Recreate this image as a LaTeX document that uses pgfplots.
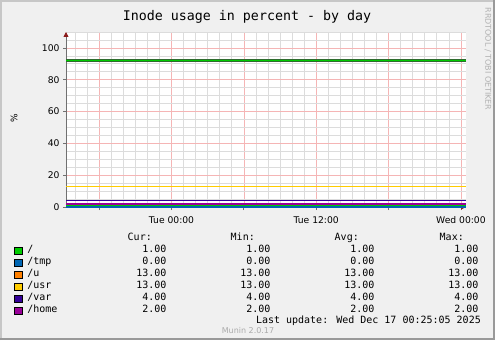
\documentclass[border=0pt]{standalone}
\usepackage{fontspec}
\setmainfont{DejaVu Sans}
\newfontfamily\mono{DejaVu Sans Mono}
\usepackage{pgfplots}
\pgfplotsset{compat=1.18}
\usetikzlibrary{arrows.meta}
\definecolor{bg}{HTML}{F0F0F0}
\definecolor{gridred}{HTML}{F5B5B5}
\definecolor{gridgray}{HTML}{DCDCDC}
\definecolor{axisgray}{HTML}{707070}
\definecolor{arrowred}{HTML}{8B1A1A}
\definecolor{cA}{HTML}{00CC00}
\definecolor{cB}{HTML}{0066B3}
\definecolor{cC}{HTML}{FF8000}
\definecolor{cD}{HTML}{FFCC00}
\definecolor{cE}{HTML}{330099}
\definecolor{cF}{HTML}{990099}
\definecolor{dkgreen}{HTML}{2E6B2E}
\newcommand{\row}[5]{\makebox[79bp][l]{#1}\makebox[60bp][r]{#2}\makebox[104bp][r]{#3}\makebox[104bp][r]{#4}\makebox[104bp][r]{#5}}
\pgfplotsset{legsq/.style={legend image code/.code={\draw[draw=black, fill=#1, line width=0.8bp] (0bp,-3.7bp) rectangle (7.4bp,3.7bp);}}}
\begin{document}
\begin{tikzpicture}[x=1bp,y=1bp]
\fill[bg] (0,0) rectangle (495,340);
\useasboundingbox (0,0) rectangle (495,340);
\draw[color=black!22, line width=2bp] (1,0) -- (1,339) -- (495,339);
\draw[color=black!40, line width=2bp] (0,1) -- (494,1) -- (494,340);
\node[font=\mono\fontsize{13.3bp}{15bp}\selectfont] at (247,323) {Inode usage in percent - by day};
\node[font=\fontsize{8bp}{10bp}\selectfont, text=black!30, rotate=-90] at (488,281) {RRDTOOL / TOBI OETIKER};
\node[font=\fontsize{9bp}{10bp}\selectfont, rotate=90] at (14,222) {\%};
\begin{axis}[
  at={(66bp,133bp)}, anchor=south west, scale only axis,
  width=400bp, height=175bp,
  xmin=-8.75, xmax=24.42, ymin=0, ymax=110,
  axis background/.style={fill=white},
  axis x line=bottom, axis y line=left,
  axis line style={draw=axisgray, line width=0.8bp},
  x axis line style={-{Triangle[length=5bp,width=5bp,color=arrowred]}},
  y axis line style={-{Triangle[length=5bp,width=5bp,color=arrowred]}},
  xtick={-6,0,6,12,18,24},
  xticklabels={,Tue 00:00,,Tue 12:00,,Wed 00:00},
  minor xtick={-8,-7,-5,-4,-3,-2,-1,1,2,3,4,5,7,8,9,10,11,13,14,15,16,17,19,20,21,22,23},
  ytick={0,20,40,60,80,100},
  minor ytick={5,10,15,25,30,35,45,50,55,65,70,75,85,90,95,105,110},
  grid=both,
  major grid style={draw=gridred, line width=0.7bp},
  minor grid style={draw=gridgray, line width=0.7bp},
  tick align=outside, major tick length=3bp, minor tick length=0pt,
  tick style={draw=axisgray, line width=0.8bp},
  ticklabel style={font=\fontsize{9.2bp}{11bp}\selectfont},
  xticklabel style={yshift=-3bp},
  /pgf/number format/assume math mode=true,
  legend style={at={(-0.13,-0.215)}, anchor=north west, draw=none, fill=none,
    inner sep=0pt, column sep=5bp, row sep=0pt,
    nodes={inner sep=0pt, text height=8bp, text depth=4bp},
    font=\mono\fontsize{10bp}{12bp}\selectfont},
  legend cell align=left,
]
\addplot[forget plot, draw=dkgreen, line width=3bp] coordinates {(-8.75,92) (24.42,92)};
\addplot[forget plot, draw=cA, line width=1.4bp] coordinates {(-8.75,92) (24.42,92)};
\addplot[forget plot, draw=cA, line width=1.5bp] coordinates {(-8.75,1) (24.42,1)};
\addplot[forget plot, draw=cB, line width=1.5bp] coordinates {(-8.75,0) (24.42,0)};
\addplot[forget plot, draw=cC, line width=1.5bp] coordinates {(-8.75,13) (24.42,13)};
\addplot[forget plot, draw=cD, line width=1.5bp] coordinates {(-8.75,13) (24.42,13)};
\addplot[forget plot, draw=cE, line width=1.5bp] coordinates {(-8.75,4) (24.42,4)};
\addplot[forget plot, draw=cF, line width=1.5bp] coordinates {(-8.75,2) (24.42,2)};
\addlegendimage{legsq=cA}\addlegendentry{\row{/}{1.00}{1.00}{1.00}{1.00}}
\addlegendimage{legsq=cB}\addlegendentry{\row{/tmp}{0.00}{0.00}{0.00}{0.00}}
\addlegendimage{legsq=cC}\addlegendentry{\row{/u}{13.00}{13.00}{13.00}{13.00}}
\addlegendimage{legsq=cD}\addlegendentry{\row{/usr}{13.00}{13.00}{13.00}{13.00}}
\addlegendimage{legsq=cE}\addlegendentry{\row{/var}{4.00}{4.00}{4.00}{4.00}}
\addlegendimage{legsq=cF}\addlegendentry{\row{/home}{2.00}{2.00}{2.00}{2.00}}
\end{axis}
\begin{scope}[font=\mono\fontsize{10bp}{12bp}\selectfont]
\node[anchor=base east, inner sep=0pt] at (152,99.4) {Cur:};
\node[anchor=base east, inner sep=0pt] at (255,99.4) {Min:};
\node[anchor=base east, inner sep=0pt] at (359,99.4) {Avg:};
\node[anchor=base east, inner sep=0pt] at (464,99.4) {Max:};
\node[anchor=base east, inner sep=0pt] at (481,16.4) {Last update: Wed Dec 17 00:25:05 2025};
\end{scope}
\node[anchor=base, inner sep=0pt, text=black!33, font=\fontsize{8bp}{10bp}\selectfont] at (248,7) {Munin 2.0.17};
\end{tikzpicture}
\end{document}
